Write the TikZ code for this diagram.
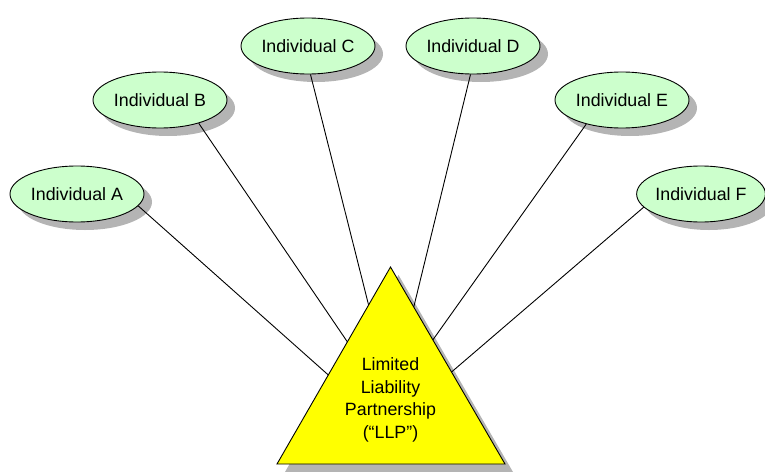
\documentclass[tikz,border=0pt]{standalone}
\usepackage{fontspec}
\setmainfont{Liberation Sans}
\usetikzlibrary{shapes.geometric,shadows,calc}
\definecolor{partnergreen}{HTML}{CCFFCC}
\definecolor{llpyellow}{HTML}{FFFF00}
\definecolor{shadowgray}{HTML}{B4B4B4}
\begin{document}
\begin{tikzpicture}[x=1pt,y=-1pt,
  person/.style={ellipse, draw=black, line width=0.9pt, fill=partnergreen,
    minimum width=134pt, minimum height=56pt, inner sep=0pt,
    font=\fontsize{17.8}{21}\selectfont,
    drop shadow={shadow xshift=8pt, shadow yshift=-8pt, fill=shadowgray, opacity=1}},
  link/.style={draw=black, line width=0.9pt},
  llpbox/.style={draw=black, line width=0.9pt, fill=llpyellow},
  llptext/.style={align=center, inner sep=0pt, font=\fontsize{17.8}{22.5}\selectfont}]
\useasboundingbox (0,0) rectangle (765,471);

% the six partners
\node[person] (A) at (77,194)  {Individual A};
\node[person] (B) at (160,100) {Individual B};
\node[person] (C) at (308,46)  {Individual C};
\node[person] (D) at (473,46)  {Individual D};
\node[person] (E) at (622,100) {Individual E};
\node[person, minimum width=124pt] (F) at (701,194) {Individual F};

% the partnership triangle with its shadow
\coordinate (apex) at (390.5,267);
\coordinate (bl) at (277,464);
\coordinate (br) at (505,464);
\fill[shadowgray] ($(apex)+(8,8)$) -- ($(bl)+(8,8)$) -- ($(br)+(8,8)$) -- cycle;
\draw[llpbox] (apex) -- (bl) -- (br) -- cycle;
\node[llptext] (llp) at (390.5,400) {Limited\\Liability\\Partnership\\(“LLP”)};

% points where the connectors meet the triangle
\coordinate (tA) at ($(apex)!0.548!(bl)$);
\coordinate (tB) at ($(apex)!0.380!(bl)$);
\coordinate (tC) at ($(apex)!0.193!(bl)$);
\coordinate (tD) at ($(apex)!0.203!(br)$);
\coordinate (tE) at ($(apex)!0.370!(br)$);
\coordinate (tF) at ($(apex)!0.533!(br)$);

% connectors
\draw[link] (A.-11)  -- (tA);
\draw[link] (B.-31)  -- (tB);
\draw[link] (C.-85)  -- (tC);
\draw[link] (D.-95)  -- (tD);
\draw[link] (E.-146) -- (tE);
\draw[link] (F.-167) -- (tF);
\end{tikzpicture}
\end{document}
